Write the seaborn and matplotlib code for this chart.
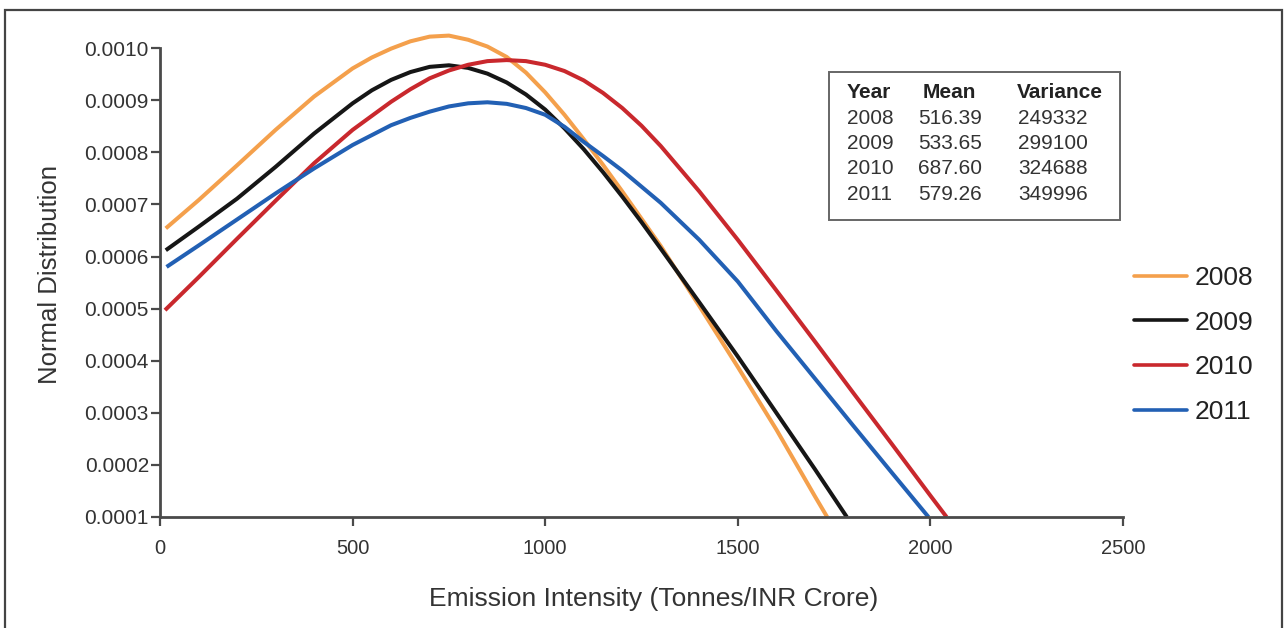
import numpy as np
import pandas as pd
import matplotlib
matplotlib.use("Agg")
import matplotlib.pyplot as plt
from matplotlib.patches import Rectangle
import seaborn as sns

# ---------------- data ----------------
years = ["2008", "2009", "2010", "2011"]

x_2008 = [15, 100, 200, 300, 400, 500, 550, 600, 650, 700, 750, 800, 850, 900, 950, 1000, 1050, 1100, 1150,
          1200, 1300, 1400, 1500, 1600, 1700, 1732]
y_2008 = [0.000654, 0.000708, 0.000775, 0.000843, 0.000907, 0.000961, 0.000982, 0.000999, 0.001013, 0.001022,
          0.001024, 0.001016, 0.001003, 0.000983, 0.000953, 0.000915, 0.000872, 0.000825, 0.000776,
          0.000725, 0.000620, 0.000505, 0.000388, 0.000268, 0.000140, 0.000100]

x_2009 = [15, 100, 200, 300, 400, 500, 550, 600, 650, 700, 750, 800, 850, 900, 950, 1000, 1050, 1100, 1150,
          1200, 1250, 1300, 1400, 1500, 1600, 1700, 1783]
y_2009 = [0.000612, 0.000657, 0.000711, 0.000772, 0.000836, 0.000894, 0.000919, 0.000939, 0.000954, 0.000964,
          0.000967, 0.000962, 0.000951, 0.000934, 0.000911, 0.000882, 0.000846, 0.000806, 0.000762,
          0.000715, 0.000666, 0.000615, 0.000512, 0.000408, 0.000300, 0.000192, 0.000100]

x_2010 = [13, 100, 200, 300, 400, 500, 600, 650, 700, 750, 800, 850, 900, 950, 1000, 1050, 1100, 1150, 1200,
          1250, 1300, 1400, 1500, 1600, 1700, 1800, 1900, 2000, 2042]
y_2010 = [0.000497, 0.000560, 0.000634, 0.000707, 0.000779, 0.000843, 0.000897, 0.000921, 0.000942, 0.000957,
          0.000968, 0.000975, 0.000977, 0.000975, 0.000968, 0.000956, 0.000938, 0.000914, 0.000885,
          0.000851, 0.000812, 0.000725, 0.000632, 0.000535, 0.000437, 0.000338, 0.000240, 0.000141, 0.000100]

x_2011 = [17, 100, 200, 300, 400, 500, 600, 650, 700, 750, 800, 850, 900, 950, 1000, 1050, 1100, 1150, 1200,
          1300, 1400, 1500, 1600, 1700, 1800, 1900, 1995]
y_2011 = [0.000580, 0.000621, 0.000671, 0.000721, 0.000769, 0.000814, 0.000852, 0.000866, 0.000878, 0.000888,
          0.000894, 0.000896, 0.000893, 0.000885, 0.000872, 0.000849, 0.000820, 0.000793, 0.000765,
          0.000703, 0.000632, 0.000552, 0.000457, 0.000366, 0.000275, 0.000185, 0.000100]

x_ticks = [0, 500, 1000, 1500, 2000, 2500]
y_ticks = [0.0001, 0.0002, 0.0003, 0.0004, 0.0005, 0.0006, 0.0007, 0.0008, 0.0009, 0.0010]

table_years = ["2008", "2009", "2010", "2011"]
table_means = ["516.39", "533.65", "687.60", "579.26"]
table_vars = ["249332", "299100", "324688", "349996"]

colors = {"2008": "#F4A04C", "2009": "#161616", "2010": "#C9282D", "2011": "#2260B4"}

# ---------------- build long table ----------------
frames = []
for yr, xs, ys in zip(years, [x_2008, x_2009, x_2010, x_2011], [y_2008, y_2009, y_2010, y_2011]):
    frames.append(pd.DataFrame({"x": xs, "y": ys, "Year": yr}))
df = pd.concat(frames, ignore_index=True)

# ---------------- style ----------------
sns.set_theme(style="white")
plt.rcParams["font.family"] = ["Liberation Sans", "DejaVu Sans"]
TXT = "#333333"
SPINE = "#4a4a4a"

W, H = 1287, 628
Y_TOP = 0.00105
top_px = 517 - (Y_TOP - 0.0001) / 0.0001 * 52.1
fig = plt.figure(figsize=(W / 100, H / 100), dpi=100)
ax = fig.add_axes([160 / W, 1 - 517 / H, 963 / W, (517 - top_px) / H])

sns.lineplot(data=df, x="x", y="y", hue="Year", palette=colors, hue_order=years,
             sort=False, estimator=None, linewidth=2.9, ax=ax, legend=False)
for ln in ax.lines:
    ln.set_solid_capstyle("butt")
    ln.set_solid_joinstyle("round")

ax.set_xlim(0, 2500)
ax.set_ylim(0.0001, Y_TOP)
ax.set_xticks(x_ticks)
ax.set_xticklabels([str(t) for t in x_ticks])
ax.set_yticks(y_ticks)
ax.set_yticklabels([f"{t:.4f}" for t in y_ticks])
ax.set_xlabel("")
ax.set_ylabel("")

for s in ["top", "right"]:
    ax.spines[s].set_visible(False)
for s in ["left", "bottom"]:
    ax.spines[s].set_color(SPINE)
    ax.spines[s].set_linewidth(2.0)
ax.spines["left"].set_bounds(0.0001, 0.0010)

ax.tick_params(axis="y", direction="out", length=6.5, width=1.6, color=SPINE, pad=1.5,
               labelsize=15, labelcolor=TXT, left=True)
ax.tick_params(axis="x", direction="out", length=6.5, width=1.6, color=SPINE, pad=9,
               labelsize=14.5, labelcolor=TXT, bottom=True)

# axis titles
fig.text(654 / W, 1 - 599 / H, "Emission Intensity (Tonnes/INR Crore)", ha="center", va="center",
         fontsize=19, color=TXT)
fig.text(50 / W, 1 - 274 / H, "Normal Distribution", ha="center", va="center", rotation=90,
         fontsize=18.5, color=TXT)

# legend
handles = [plt.Line2D([0], [0], color=colors[y], lw=2.6) for y in years]
fig.legend(handles, years, loc="center left", bbox_to_anchor=(1134 / W, 1 - 345 / H),
           bbox_transform=fig.transFigure, frameon=False, fontsize=19, handlelength=2.0,
           handletextpad=0.3, labelspacing=0.78, borderpad=0, borderaxespad=0, labelcolor="#222222")

# stats table box
fig.add_artist(Rectangle((829 / W, 1 - 220 / H), (1120 - 829) / W, (220 - 72) / H,
                         transform=fig.transFigure, fill=False, edgecolor="#666666", linewidth=1.4))
hy = 92
fig.text(847 / W, 1 - hy / H, "Year", ha="left", va="center", fontsize=15, fontweight="bold", color="#222222")
fig.text(949 / W, 1 - hy / H, "Mean", ha="center", va="center", fontsize=15, fontweight="bold", color="#222222")
fig.text(1017 / W, 1 - hy / H, "Variance", ha="left", va="center", fontsize=15, fontweight="bold", color="#222222")
row_y = [118, 143.5, 169, 195]
for ry, yv, mv, vv in zip(row_y, table_years, table_means, table_vars):
    fig.text(847 / W, 1 - ry / H, yv, ha="left", va="center", fontsize=15, color=TXT)
    fig.text(950 / W, 1 - ry / H, mv, ha="center", va="center", fontsize=15, color=TXT)
    fig.text(1018 / W, 1 - ry / H, vv, ha="left", va="center", fontsize=15, color=TXT)

# outer frame
fig.add_artist(Rectangle((5 / W, -0.05), (1282 - 5) / W, 1.05 - 10 / H,
                         transform=fig.transFigure, fill=False, edgecolor="#444444", linewidth=1.6))

fig.savefig("out.png", dpi=100, facecolor="white")
